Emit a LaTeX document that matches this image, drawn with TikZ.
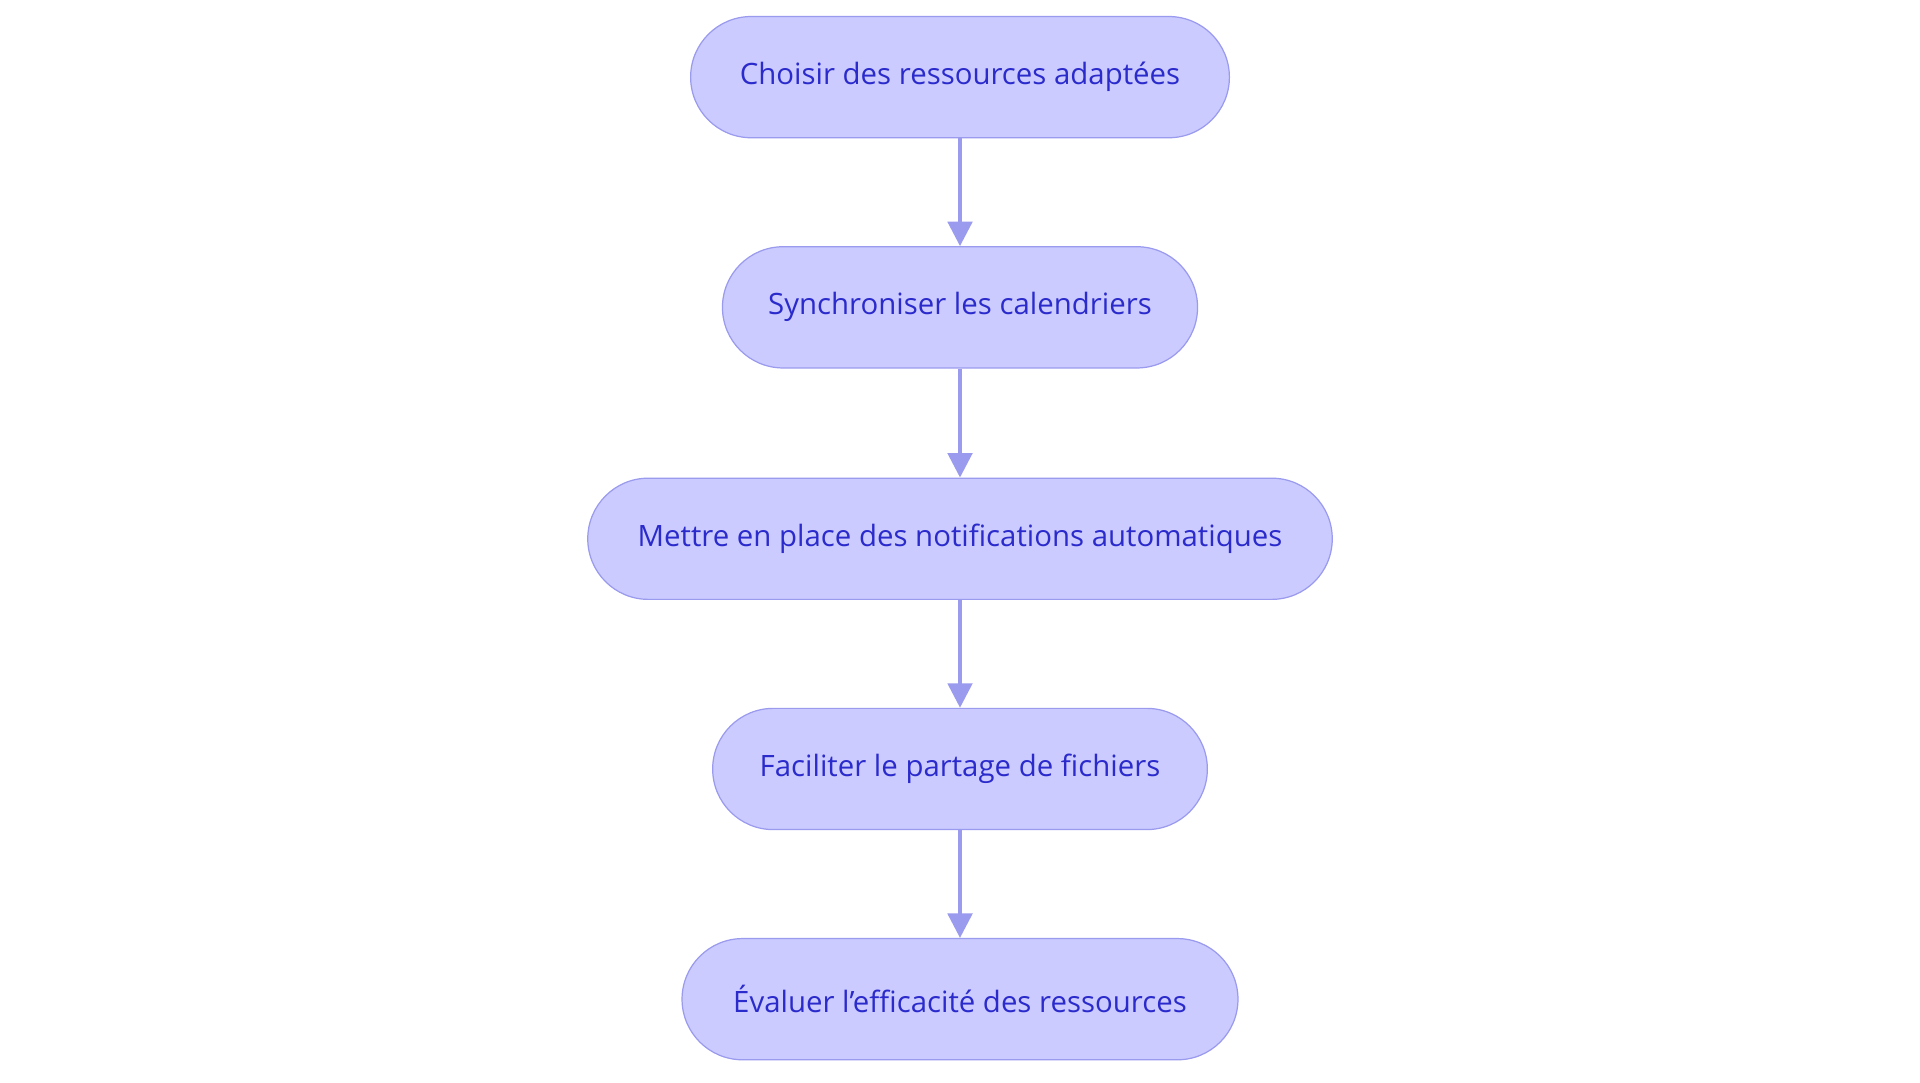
\documentclass[tikz,border=0pt]{standalone}
\usepackage{fontspec}
\setmainfont{Open Sans}
\usepackage{tikz}
\usetikzlibrary{shapes.misc, arrows.meta, positioning}

\definecolor{stepfill}{HTML}{CBCBFF}
\definecolor{stepline}{HTML}{9A9AEE}
\definecolor{steptext}{HTML}{2B2BCC}

\tikzset{
  stage/.style={rounded rectangle, draw=stepline, fill=stepfill, line width=1pt,
    text=steptext, minimum height=99pt, inner xsep=0pt,
    font=\fontsize{24}{29}\selectfont},
  flow/.style={draw=stepline, line width=3pt, -{Triangle[length=20pt, width=20pt]}}
}

\begin{document}
\begin{tikzpicture}[x=1pt, y=1pt]
    % page frame
    \useasboundingbox (0, 0) rectangle (1568, 884);

    % steps
    \node[stage, minimum width=440pt] (choose) at (784, 821) {Choisir des ressources adaptées};
    \node[stage, minimum width=388pt] (sync) at (784, 633) {Synchroniser les calendriers};
    \node[stage, minimum width=608pt] (notify) at (784, 444) {Mettre en place des notifications automatiques};
    \node[stage, minimum width=404pt] (share) at (784, 256) {Faciliter le partage de fichiers};
    \node[stage, minimum width=454pt] (assess) at (784, 68) {Évaluer l’efficacité des ressources};

    % connectors
    \draw[flow] (choose) -- (sync);
    \draw[flow] (sync) -- (notify);
    \draw[flow] (notify) -- (share);
    \draw[flow] (share) -- (assess);
\end{tikzpicture}
\end{document}
